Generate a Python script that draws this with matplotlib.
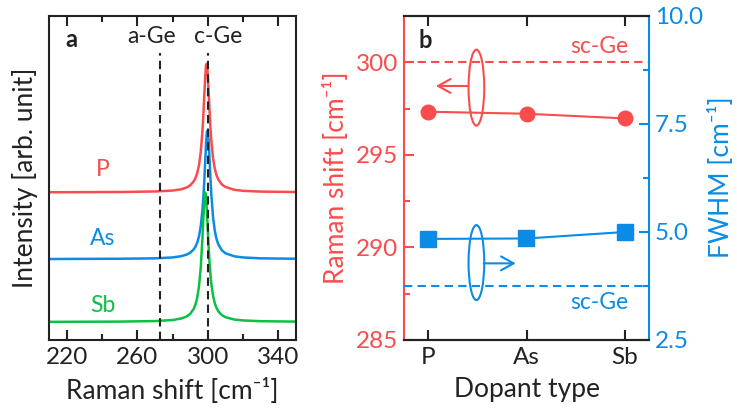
import numpy as np
import matplotlib
matplotlib.use("Agg")
import matplotlib.pyplot as plt
from matplotlib.patches import Ellipse

plt.rcParams['font.family'] = ['Lato', 'DejaVu Sans']

RED = '#F94C4C'
BLUE = '#0A8CE6'
GREEN = '#0BC044'
INK = '#222222'

# panel a: Raman spectra (normalised)
shift = [210, 250, 270, 280, 285, 288, 290, 292, 293, 294, 295, 296, 297, 297.5, 298,
         298.5, 299, 299.5, 300, 300.5, 301, 301.5, 302, 303, 304, 305, 306, 308, 310,
         315, 320, 330, 350]
int_P = [0.000, 0.002, 0.006, 0.013, 0.023, 0.037, 0.053, 0.083, 0.109, 0.147, 0.207,
         0.308, 0.478, 0.599, 0.741, 0.883, 0.982, 0.992, 0.908, 0.771, 0.626, 0.500,
         0.399, 0.261, 0.180, 0.130, 0.097, 0.060, 0.041, 0.019, 0.011, 0.005, 0.002]
int_As = [0.000, 0.002, 0.005, 0.012, 0.022, 0.034, 0.048, 0.074, 0.095, 0.126, 0.174,
          0.251, 0.382, 0.478, 0.599, 0.741, 0.883, 0.982, 0.992, 0.908, 0.771, 0.626,
          0.500, 0.321, 0.215, 0.152, 0.112, 0.067, 0.044, 0.021, 0.012, 0.005, 0.002]
int_Sb = [0.000, 0.002, 0.006, 0.014, 0.026, 0.041, 0.061, 0.100, 0.134, 0.186, 0.272,
          0.417, 0.654, 0.800, 0.931, 0.998, 0.968, 0.857, 0.712, 0.573, 0.457, 0.365,
          0.295, 0.200, 0.142, 0.106, 0.081, 0.052, 0.036, 0.018, 0.011, 0.005, 0.002]
offsets = {'P': 0.456, 'As': 0.250, 'Sb': 0.056}
peak_scale = 0.40
a_ge, c_ge = 273, 300

# panel b: peak position and width per dopant
dopants = ['P', 'As', 'Sb']
raman_pos = [297.33, 297.22, 296.97]
fwhm = [4.84, 4.85, 5.00]
sc_ge_pos = 300.0
sc_ge_fwhm = 3.75

fig = plt.figure(figsize=(7.37, 4.12), dpi=100)
W, H = 737, 412

def px(x0, y0, x1, y1):
    return [x0 / W, 1 - y1 / H, (x1 - x0) / W, (y1 - y0) / H]

TICK_FS = 17.5
TXT_FS = 16.5
LAB_FS = 19

# ---------------- panel a
ax = fig.add_axes(px(49, 16, 296, 340))
spectra = [('P', int_P, RED), ('As', int_As, BLUE), ('Sb', int_Sb, GREEN)]
for name, vals, col in spectra:
    y = offsets[name] + peak_scale * np.array(vals)
    ax.plot(shift, y, color=col, lw=1.8, solid_capstyle='round')
ax.axvline(a_ge, ymin=0, ymax=0.886, color=INK, lw=1.5, ls=(0, (4, 2.5)))
ax.axvline(c_ge, ymin=0, ymax=0.886, color=INK, lw=1.5, ls=(0, (4, 2.5)))
ax.set_xlim(210, 350)
ax.set_ylim(0, 1)
ax.set_xticks([220, 260, 300, 340])
ax.set_xticks([240, 280, 320], minor=True)
ax.set_yticks([])
ax.tick_params(axis='x', which='both', direction='in', top=True, width=1.5,
               labelsize=TICK_FS, colors=INK, pad=5)
ax.tick_params(axis='x', which='major', length=7)
ax.tick_params(axis='x', which='minor', length=4)
for s in ax.spines.values():
    s.set_linewidth(1.5)
    s.set_color(INK)

tr = ax.get_xaxis_transform()
ax.text(240.5, 0.525, 'P', color=RED, fontsize=TXT_FS, ha='center', va='center', transform=tr)
ax.text(240.5, 0.312, 'As', color=BLUE, fontsize=TXT_FS, ha='center', va='center', transform=tr)
ax.text(240.5, 0.108, 'Sb', color=GREEN, fontsize=TXT_FS, ha='center', va='center', transform=tr)
ax.text(268.2, 0.936, 'a-Ge', color=INK, fontsize=TXT_FS, ha='center', va='center', transform=tr)
ax.text(305.9, 0.936, 'c-Ge', color=INK, fontsize=TXT_FS, ha='center', va='center', transform=tr)
ax.text(222.9, 0.926, 'a', color=INK, fontsize=17, fontweight='bold', ha='center',
        va='center', transform=tr)

fig.text(25 / W, 1 - 178 / H, 'Intensity [arb. unit]', rotation=90, fontsize=LAB_FS,
         color=INK, ha='center', va='center')
fig.text(172 / W, 1 - 391 / H, 'Raman shift [cm\u207b\u00b9]', fontsize=LAB_FS,
         color=INK, ha='center', va='center')

# ---------------- panel b
axb = fig.add_axes(px(403.7, 16, 649.3, 340))
axr = axb.twinx()
xs = np.arange(len(dopants))

axb.plot(xs, raman_pos, color=RED, lw=1.5, marker='o', ms=10.5, zorder=3)
axb.axhline(sc_ge_pos, color=RED, lw=1.5, ls=(0, (4, 2.5)))
axr.plot(xs, fwhm, color=BLUE, lw=1.5, marker='s', ms=11, zorder=3)
axr.axhline(sc_ge_fwhm, color=BLUE, lw=1.5, ls=(0, (4, 2.5)))

axb.set_xlim(-0.25, 2.25)
axb.set_ylim(285, 302.5)
axr.set_ylim(2.5, 10)
axb.set_xticks(xs)
axb.set_xticklabels(dopants)
axb.set_yticks([285, 290, 295, 300])
axb.set_yticks([287.5, 292.5, 297.5], minor=True)
axr.set_yticks([2.5, 5.0, 7.5, 10.0])
axr.set_yticks([3.75, 6.25, 8.75], minor=True)
axr.set_yticklabels(['2.5', '5.0', '7.5', '10.0'])

axb.tick_params(axis='x', direction='in', top=True, width=1.5, length=7,
                labelsize=TICK_FS, colors=INK, pad=5)
axb.tick_params(axis='y', which='both', direction='in', width=1.5, colors=RED,
                labelsize=TICK_FS, pad=4)
axb.tick_params(axis='y', which='major', length=7)
axb.tick_params(axis='y', which='minor', length=4)
axr.tick_params(axis='y', which='both', direction='in', width=1.5, colors=BLUE,
                labelsize=TICK_FS, pad=4)
axr.tick_params(axis='y', which='major', length=7)
axr.tick_params(axis='y', which='minor', length=4)

for s in axb.spines.values():
    s.set_linewidth(1.5)
    s.set_color(INK)
axb.spines['left'].set_color(RED)
axb.spines['right'].set_visible(False)
for s in axr.spines.values():
    s.set_linewidth(1.5)
    s.set_color(INK)
axr.spines['left'].set_visible(False)
axr.spines['right'].set_color(BLUE)

# ellipses + arrows pointing to the relevant axis
arrow_style = '->,head_length=0.9,head_width=0.5'
axr.add_patch(Ellipse((0.49, 298.63), 0.16, 4.1, transform=axb.transData,
                      fill=False, ec=RED, lw=1.5))
axr.annotate('', xy=(0.078, 298.72), xytext=(0.406, 298.72), xycoords=axb.transData,
             textcoords=axb.transData,
             arrowprops=dict(arrowstyle=arrow_style, color=RED, lw=1.5,
                             shrinkA=0, shrinkB=0))
axr.add_patch(Ellipse((0.49, 289.18), 0.16, 4.05, transform=axb.transData,
                      fill=False, ec=BLUE, lw=1.5))
axr.annotate('', xy=(0.89, 289.14), xytext=(0.565, 289.14), xycoords=axb.transData,
             textcoords=axb.transData,
             arrowprops=dict(arrowstyle=arrow_style, color=BLUE, lw=1.5,
                             shrinkA=0, shrinkB=0))

axb.text(1.738, 300.85, 'sc-Ge', color=RED, fontsize=TXT_FS, ha='center', va='center')
axb.text(1.738, 287.05, 'sc-Ge', color=BLUE, fontsize=TXT_FS, ha='center', va='center')
axb.text(-0.034, 301.2, 'b', color=INK, fontsize=17, fontweight='bold',
         ha='center', va='center')

fig.text(336 / W, 1 - 177.5 / H, 'Raman shift [cm\u207b\u00b9]', rotation=90,
         fontsize=LAB_FS, color=RED, ha='center', va='center')
fig.text(721 / W, 1 - 177.5 / H, 'FWHM [cm\u207b\u00b9]', rotation=90,
         fontsize=LAB_FS, color=BLUE, ha='center', va='center')
fig.text(526.7 / W, 1 - 390 / H, 'Dopant type', fontsize=LAB_FS, color=INK,
         ha='center', va='center')

fig.savefig('out.png', dpi=100)
